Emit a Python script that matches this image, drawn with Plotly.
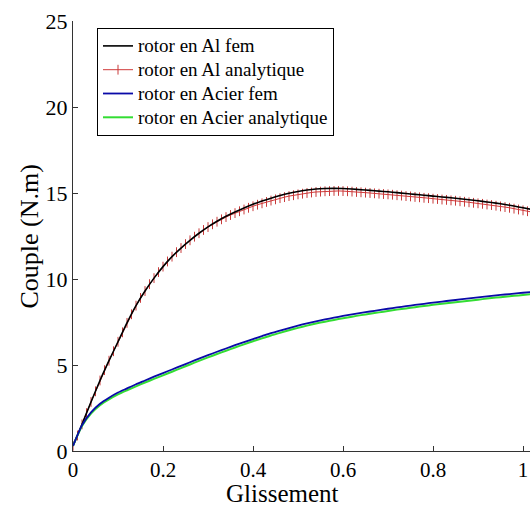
import plotly.graph_objects as go

# ---------------- data ----------------
x_fem = [0.00, 0.02, 0.04, 0.06, 0.08, 0.10, 0.12, 0.14, 0.16, 0.18,
         0.20, 0.22, 0.24, 0.26, 0.28, 0.30, 0.32, 0.34, 0.36, 0.38,
         0.40, 0.42, 0.44, 0.46, 0.48, 0.50, 0.52, 0.54, 0.56, 0.58,
         0.60, 0.62, 0.64, 0.66, 0.68, 0.70, 0.72, 0.74, 0.76, 0.78,
         0.80, 0.82, 0.84, 0.86, 0.88, 0.90, 0.92, 0.94, 0.96, 0.98,
         1.00, 1.02]

al_fem = [0.30, 1.55, 2.85, 4.10, 5.25, 6.35, 7.45, 8.45, 9.30, 10.05,
          10.72, 11.30, 11.80, 12.25, 12.66, 13.03, 13.36, 13.65, 13.90, 14.13,
          14.34, 14.53, 14.70, 14.85, 14.98, 15.09, 15.17, 15.23, 15.26, 15.27,
          15.26, 15.23, 15.19, 15.15, 15.11, 15.07, 15.02, 14.97, 14.92, 14.87,
          14.82, 14.77, 14.72, 14.67, 14.61, 14.55, 14.48, 14.41, 14.33, 14.24,
          14.14, 14.04]

acier_fem = [0.30, 1.50, 2.25, 2.75, 3.10, 3.40, 3.64, 3.88, 4.10, 4.32,
             4.53, 4.74, 4.95, 5.16, 5.37, 5.57, 5.77, 5.96, 6.15, 6.33,
             6.51, 6.68, 6.85, 7.00, 7.15, 7.29, 7.42, 7.54, 7.65, 7.75,
             7.85, 7.94, 8.03, 8.11, 8.19, 8.27, 8.35, 8.42, 8.49, 8.56,
             8.63, 8.69, 8.75, 8.81, 8.87, 8.93, 8.99, 9.05, 9.10, 9.15,
             9.20, 9.25]

acier_analytique = [0.30, 1.45, 2.17, 2.66, 3.00, 3.29, 3.53, 3.76, 3.98, 4.19,
                    4.40, 4.61, 4.82, 5.03, 5.24, 5.44, 5.64, 5.83, 6.02, 6.20,
                    6.38, 6.55, 6.72, 6.87, 7.02, 7.16, 7.29, 7.41, 7.52, 7.62,
                    7.72, 7.81, 7.90, 7.98, 8.06, 8.14, 8.22, 8.29, 8.36, 8.43,
                    8.50, 8.56, 8.62, 8.68, 8.74, 8.80, 8.86, 8.92, 8.97, 9.02,
                    9.07, 9.12]

x_ana = [0.00, 0.01, 0.02, 0.03, 0.04, 0.05, 0.06, 0.07, 0.08, 0.09,
         0.10, 0.11, 0.12, 0.13, 0.14, 0.15, 0.16, 0.17, 0.18, 0.19,
         0.20, 0.21, 0.22, 0.23, 0.24, 0.25, 0.26, 0.27, 0.28, 0.29,
         0.30, 0.31, 0.32, 0.33, 0.34, 0.35, 0.36, 0.37, 0.38, 0.39,
         0.40, 0.41, 0.42, 0.43, 0.44, 0.45, 0.46, 0.47, 0.48, 0.49,
         0.50, 0.51, 0.52, 0.53, 0.54, 0.55, 0.56, 0.57, 0.58, 0.59,
         0.60, 0.61, 0.62, 0.63, 0.64, 0.65, 0.66, 0.67, 0.68, 0.69,
         0.70, 0.71, 0.72, 0.73, 0.74, 0.75, 0.76, 0.77, 0.78, 0.79,
         0.80, 0.81, 0.82, 0.83, 0.84, 0.85, 0.86, 0.87, 0.88, 0.89,
         0.90, 0.91, 0.92, 0.93, 0.94, 0.95, 0.96, 0.97, 0.98, 0.99,
         1.00, 1.01, 1.02]

al_analytique = [0.30, 0.90, 1.55, 2.20, 2.85, 3.47, 4.10, 4.70, 5.25, 5.80,
                 6.35, 6.90, 7.45, 7.95, 8.45, 8.90, 9.30, 9.70, 10.05, 10.40,
                 10.72, 11.02, 11.30, 11.56, 11.80, 12.03, 12.25, 12.46, 12.66, 12.85,
                 13.02, 13.18, 13.33, 13.47, 13.60, 13.72, 13.83, 13.94, 14.04, 14.14,
                 14.23, 14.32, 14.40, 14.48, 14.56, 14.63, 14.70, 14.76, 14.82, 14.87,
                 14.92, 14.96, 15.00, 15.03, 15.06, 15.08, 15.10, 15.11, 15.12, 15.12,
                 15.11, 15.10, 15.08, 15.06, 15.04, 15.02, 15.00, 14.98, 14.96, 14.94,
                 14.92, 14.90, 14.87, 14.85, 14.82, 14.80, 14.77, 14.75, 14.72, 14.70,
                 14.67, 14.65, 14.62, 14.60, 14.57, 14.55, 14.52, 14.49, 14.46, 14.43,
                 14.40, 14.37, 14.33, 14.30, 14.26, 14.22, 14.18, 14.14, 14.09, 14.04,
                 13.99, 13.94, 13.89]

x_tickvals = [0, 0.2, 0.4, 0.6, 0.8, 1]
x_ticktext = ["0", "0.2", "0.4", "0.6", "0.8", "1"]
y_tickvals = [0, 5, 10, 15, 20, 25]
y_ticktext = ["0", "5", "10", "15", "20", "25"]

names = ["rotor en Al fem", "rotor en Al analytique",
         "rotor en Acier fem", "rotor en Acier analytique"]

FONT = "Liberation Serif, Times New Roman, serif"


def leg(name):
    # legend label rendered at 19px while the row spacing follows the 16px legend font
    return '<span style="font-size:19px">' + name + '</span>'


fig = go.Figure()

# red analytic drawn under black fem
fig.add_trace(go.Scatter(
    x=x_ana, y=al_analytique, name=leg(names[1]), legendrank=2,
    mode="lines+markers",
    line=dict(color="#d03a3a", width=1),
    marker=dict(symbol="line-ns", size=7, line=dict(color="#c83a3a", width=1)),
))
fig.add_trace(go.Scatter(
    x=x_fem, y=al_fem, name=leg(names[0]), legendrank=1,
    mode="lines", line=dict(color="#000000", width=1.6, shape="spline", smoothing=0.6),
))
fig.add_trace(go.Scatter(
    x=x_fem, y=acier_analytique, name=leg(names[3]), legendrank=4,
    mode="lines", line=dict(color="#33dd33", width=2, shape="spline", smoothing=0.6),
))
fig.add_trace(go.Scatter(
    x=x_fem, y=acier_fem, name=leg(names[2]), legendrank=3,
    mode="lines", line=dict(color="#0a0aa8", width=1.8, shape="spline", smoothing=0.6),
))

W, H = 530, 507
ml, mr, mt, mb = 73, 0, 21, 56
pw = W - ml - mr
ph = H - mt - mb

fig.update_layout(
    width=W, height=H,
    margin=dict(l=ml, r=mr, t=mt, b=mb, pad=0),
    paper_bgcolor="white", plot_bgcolor="white",
    font=dict(family=FONT, color="black"),
    showlegend=True,
    legend=dict(
        x=(97 - ml) / pw, y=(H - mb - 28) / ph,
        xanchor="left", yanchor="top",
        bgcolor="white", bordercolor="black", borderwidth=1,
        font=dict(family=FONT, size=16, color="black"),
        tracegroupgap=0, itemwidth=30,
    ),
    xaxis=dict(
        range=[0, pw / 450.0], showgrid=False, zeroline=False,
        showline=True, linecolor="#333333", linewidth=1, mirror=False,
        ticks="inside", ticklen=5, tickcolor="#333333",
        tickvals=x_tickvals, ticktext=x_ticktext,
        tickfont=dict(family=FONT, size=21, color="black"),
    ),
    yaxis=dict(
        range=[0, 25], showgrid=False, zeroline=False,
        showline=True, linecolor="#333333", linewidth=1, mirror=False,
        ticks="inside", ticklen=5, tickcolor="#333333",
        tickvals=y_tickvals, ticktext=y_ticktext,
        tickfont=dict(family=FONT, size=22, color="black"),
    ),
    annotations=[
        dict(text="Glissement", xref="paper", yref="paper",
             x=(282 - ml) / pw, y=(H - mb - 493) / ph,
             xanchor="center", yanchor="middle", showarrow=False,
             font=dict(family=FONT, size=25, color="black")),
        dict(text="Couple (N.m)", xref="paper", yref="paper",
             x=(28.5 - ml) / pw, y=(H - mb - 237) / ph, textangle=-90,
             xanchor="center", yanchor="middle", showarrow=False,
             font=dict(family=FONT, size=26, color="black")),
    ],
)

fig.write_html("out.html")
